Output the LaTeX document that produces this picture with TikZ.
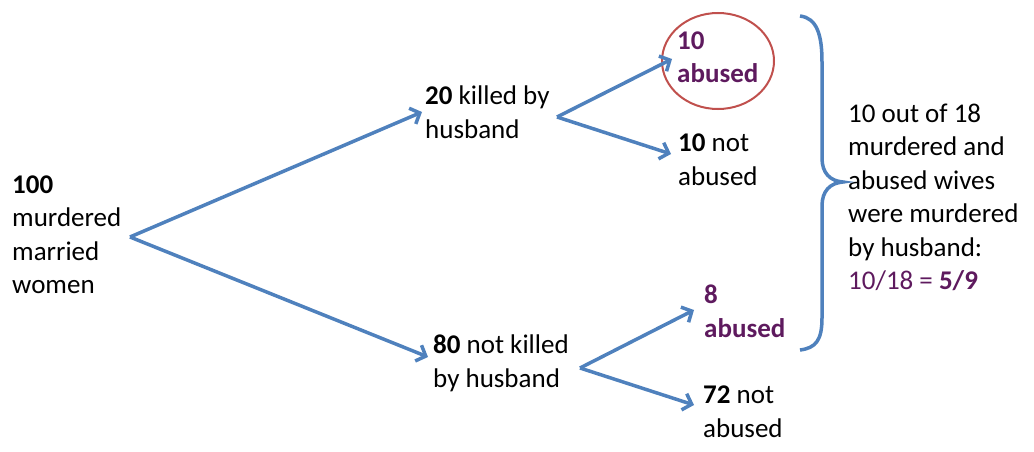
\documentclass[tikz,border=0pt]{standalone}
\usepackage{fontspec}
\setmainfont{Carlito}
\usetikzlibrary{arrows.meta,shapes.geometric}
\definecolor{abl}{HTML}{4F81BD}
\definecolor{pur}{HTML}{5E1A5E}
\definecolor{cred}{HTML}{C0504D}
\begin{document}
\begin{tikzpicture}[x=1pt,y=-1pt,
  lbl/.style={anchor=base west, inner sep=0pt, align=left, font=\fontsize{27}{33.5}\selectfont},
  arr/.style={abl, line width=3.5pt, -{Straight Barb[length=8pt,width=17pt]}},
  brace/.style={abl, line width=3.5pt},
  ring/.style={draw=cred, line width=2pt, ellipse, inner sep=0pt, minimum width=112pt, minimum height=96pt}]
\useasboundingbox (0,0) rectangle (1034,452);
% ring
\node[ring] (circ) at (718,61) {};
% texts (anchored at the baseline of the last line)
\node[lbl] (root) at (12,293.5) {\textbf{100}\\murdered\\married\\women};
\node[lbl] (k) at (425,138) {\textbf{20} killed by\\husband};
\node[lbl] (nk) at (433,387) {\textbf{80} not killed\\by husband};
\node[lbl,text=pur] (ka) at (677,83) {\textbf{10}\\\textbf{abused}};
\node[lbl] (kn) at (678,185) {\textbf{10} not\\abused};
\node[lbl,text=pur] (na) at (704,337) {\textbf{8}\\\textbf{abused}};
\node[lbl] (nn) at (703,437) {\textbf{72} not\\abused};
\node[lbl] (concl) at (848,289.5) {10 out of 18\\murdered and\\abused wives\\were murdered\\by husband:\\\textcolor{pur}{10/18 = \textbf{5/9}}};
% connector points
\coordinate (r0) at (130,237);
\coordinate (kin) at (422,112);
\coordinate (nkin) at (428,357);
\coordinate (kout) at (557,117);
\coordinate (kaT) at (672,59);
\coordinate (knT) at (671,154);
\coordinate (nkout) at (580,368);
\coordinate (naT) at (694,310);
\coordinate (nnT) at (694,405);
% arrows
\draw[arr] (r0) -- (kin);
\draw[arr] (r0) -- (nkin);
\draw[arr] (kout) -- (kaT);
\draw[arr] (kout) -- (knT);
\draw[arr] (nkout) -- (naT);
\draw[arr] (nkout) -- (nnT);
% brace
\coordinate (btop) at (800,16);
\coordinate (btip) at (843,182);
\coordinate (bbot) at (800,350);
\draw[brace] (btop) .. controls (817,18) and (822,35) .. (822,62) -- (822,158)
  .. controls (822,173) and (830,181) .. (btip)
  .. controls (830,183) and (822,191) .. (822,206) -- (822,318)
  .. controls (822,340) and (816,348) .. (bbot);
\end{tikzpicture}
\end{document}
